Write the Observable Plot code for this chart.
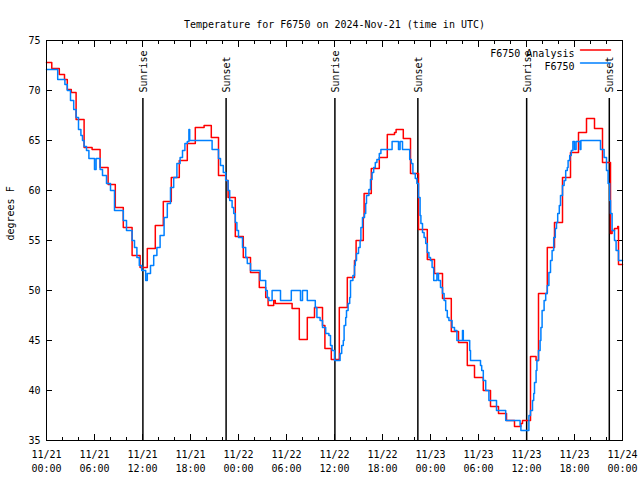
<!DOCTYPE html>
<html><head><meta charset="utf-8">
<script src="https://cdn.jsdelivr.net/npm/d3@7"></script>
<script src="https://cdn.jsdelivr.net/npm/@observablehq/plot@0.6"></script>
<style>body{margin:0;background:#fff}</style>
</head><body><div id="chart"></div>
<script>
const titleText = "Temperature for F6750 on 2024-Nov-21 (time in UTC)";
const yLabelText = "degrees F";
const seriesNames = ["F6750 Analysis", "F6750"];
const seriesColors = ["#ff0000", "#0080ff"];

// hours since 2024-11-21 00:00 UTC (step-after values)
const analysisHours = [0,0.66,1.6,2.25,2.6,3.1,3.7,4.7,5.7,6.7,7.7,8.6,9.6,10.7,11.7,12.6,13.6,14.6,15.6,16.6,17.6,18.6,19.7,20.6,21.5,22.4,22.7,23.6,24.6,25.5,26.6,27.4,27.7,28.4,28.6,30.7,31.6,32.6,33.5,34.5,34.8,35.6,36.6,37.6,38.5,38.7,39.6,39.7,40.6,41.6,42.6,43.5,43.7,44.6,45.5,46.5,47.6,48.5,49.5,50.6,51.5,52.6,53.5,54.6,55.5,56.5,57.5,58.5,59.3,59.5,60.5,61.2,61.5,62.6,63.5,64.5,65.5,66.5,67.5,68.5,69.5,70.5,70.7,71.0,71.4,71.5,72];
const analysisTemps = [72.8,72.2,71.6,71.1,70.1,69.8,67.1,64.3,64.1,62.3,60.6,58.3,56.3,53.5,52.3,54.2,56.5,58.9,61.3,63.0,64.7,66.3,66.5,65.3,61.5,61.0,59.3,55.4,53.3,51.8,50.3,49.3,48.5,49.0,48.7,48.2,45.1,47.3,48.3,46.5,44.2,43.1,48.3,51.3,53.0,55.0,57.3,59.7,62.2,63.3,65.6,65.8,66.1,65.2,61.7,56.1,53.1,51.7,49.2,45.9,44.8,42.5,41.3,40.0,38.4,37.7,37.0,36.4,36.7,37.0,43.4,43.0,49.7,54.3,56.8,61.3,63.8,65.8,67.2,66.2,62.8,55.7,56.0,56.2,56.4,52.6,52.6];

const obsHours = [0,1.4,2.3,2.6,3.0,3.4,3.7,4.0,4.3,4.5,4.7,5.0,5.3,6.0,6.2,6.7,7.0,7.5,8.0,8.5,9.6,10.0,10.7,11.0,11.3,11.6,11.9,12.4,12.6,13.0,13.4,13.8,14.2,14.7,15.1,15.5,15.9,16.3,16.7,17.0,17.3,17.6,17.8,17.9,20.7,21.5,21.75,22.1,22.4,22.7,22.9,23.2,23.4,23.6,23.8,24.0,24.5,24.9,25.1,25.5,26.7,27.4,27.6,27.8,28.2,29.25,30.6,31.75,32.0,32.6,33.6,33.8,34.2,34.5,34.9,35.3,35.5,35.7,36.0,36.7,36.9,37.1,37.2,37.4,37.5,37.7,37.9,38.0,38.3,38.5,38.6,38.75,39.0,39.2,39.3,39.5,39.75,39.9,40.0,40.3,40.5,40.7,40.9,41.1,41.3,41.6,41.8,43.2,44.0,44.2,44.5,45.4,45.6,45.8,46.1,46.3,46.5,46.7,46.8,47.0,47.2,47.4,47.6,47.8,48.0,48.2,48.4,48.8,49.0,49.25,49.5,49.7,49.9,50.1,50.3,50.7,51.0,51.3,52.0,52.1,52.9,53.0,54.25,54.4,54.6,54.9,55.3,56.25,57.4,59.2,59.3,60.3,60.5,60.75,60.9,61.0,61.2,61.3,61.5,61.7,61.8,61.95,62.2,62.4,62.6,62.8,63.0,63.2,63.4,63.6,63.75,63.9,64.1,64.25,64.5,64.7,64.9,65.1,65.2,65.4,65.6,65.8,66.0,66.2,66.7,66.8,69.25,69.7,70.0,70.2,70.4,70.5,70.7,71.0,71.2,71.5,72];
const obsTemps = [72.1,71.1,70.6,70.0,69.0,68.1,67.3,66.1,65.5,65.0,64.4,64.0,63.2,62.1,63.2,62.1,61.5,60.7,60.0,58.0,57.0,56.0,55.0,54.3,53.3,52.5,52.0,51.0,51.7,52.5,53.5,54.3,55.5,57.3,58.7,60.3,61.3,62.7,63.3,64.0,64.7,64.9,66.1,65.0,64.1,63.2,62.5,61.8,61.0,60.0,59.0,58.3,57.7,56.8,56.0,55.3,54.3,53.3,52.7,52.0,51.0,50.0,49.3,49.0,50.0,49.0,50.0,49.0,50.0,49.0,48.3,47.3,47.0,46.3,45.7,45.5,44.5,44.0,43.0,43.7,44.5,45.0,46.5,47.3,48.0,48.7,49.3,51.0,51.5,52.5,53.0,53.7,54.3,55.0,56.3,57.3,57.7,58.7,59.5,60.1,61.1,61.8,62.3,62.8,63.1,63.7,64.1,64.9,64.1,64.9,64.1,63.1,62.7,61.7,61.2,60.7,59.3,57.5,56.7,55.8,55.3,54.7,53.8,53.3,53.0,52.3,51.0,51.7,51.0,50.3,49.7,49.0,48.0,47.3,47.0,46.3,46.0,45.0,46.0,45.0,44.0,43.0,42.5,42.0,41.0,40.0,39.0,38.0,37.0,36.5,36.0,37.5,38.0,39.0,39.7,40.8,42.0,43.0,44.0,45.0,46.3,48.0,49.0,49.7,50.5,51.8,53.0,54.0,55.3,56.2,56.8,57.7,58.5,59.5,60.5,61.0,62.0,62.3,63.0,63.5,64.0,64.9,64.1,64.9,64.1,65.0,64.1,63.3,62.0,60.7,59.0,57.7,56.0,55.0,54.0,53.0,53.0];

const sunLabels = ["Sunrise","Sunset","Sunrise","Sunset","Sunrise","Sunset"];
const sunHours = [12.05,22.45,36.05,46.42,60.02,70.35];

const yTicks = [35,40,45,50,55,60,65,70,75];
const majorTickHours = [0,6,12,18,24,30,36,42,48,54,60,66,72];
const minorTickHours = [0,2,4,6,8,10,12,14,16,18,20,22,24,26,28,30,32,34,36,38,40,42,44,46,48,50,52,54,56,58,60,62,64,66,68,70,72];

const t0 = Date.UTC(2024, 10, 21);
const toDate = h => new Date(t0 + h * 3600000);
const analysis = analysisHours.map((h, i) => ({time: toDate(h), temp: analysisTemps[i]}));
const obs = obsHours.map((h, i) => ({time: toDate(h), temp: obsTemps[i]}));
const sun = sunHours.map((h, i) => ({time: toDate(h), label: sunLabels[i]}));
const majorTicks = majorTickHours.map(toDate);
const minorTicks = minorTickHours.map(toDate);
const fmt = d3.utcFormat("%m/%d\n%H:%M");
const blank = () => "";
const lineShape = {draw(context, l) { context.moveTo(0, 0); context.lineTo(0, -l); }};

const chart = Plot.plot({
  width: 640, height: 480,
  marginTop: 40, marginBottom: 40, marginLeft: 46, marginRight: 18,
  style: {fontFamily: "'DejaVu Sans Mono', monospace", fontSize: "10px", background: "white", color: "black"},
  x: {type: "utc", domain: [toDate(0), toDate(72)]},
  y: {domain: [35, 75]},
  marks: [
    Plot.axisY(yTicks, {tickSize: 0, tickPadding: 6, label: null, fontSize: 10}),
    Plot.axisY(yTicks, {anchor: "left", tickSize: 6, dx: 6, tickFormat: blank, label: null}),
    Plot.axisY(yTicks, {anchor: "right", tickSize: 6, dx: -6, tickFormat: blank, label: null}),
    Plot.axisX(majorTicks, {anchor: "bottom", tickSize: 0, tickPadding: 8, tickFormat: fmt, label: null, lineHeight: 1.4, fontSize: 10}),
    Plot.axisX(majorTicks, {anchor: "bottom", tickSize: 6, dy: -6, tickFormat: blank, label: null}),
    Plot.axisX(minorTicks, {anchor: "bottom", tickSize: 3, dy: -3, tickFormat: blank, label: null}),
    Plot.axisX(majorTicks, {anchor: "top", tickSize: 6, dy: 6, tickFormat: blank, label: null}),
    Plot.axisX(minorTicks, {anchor: "top", tickSize: 3, dy: 3, tickFormat: blank, label: null}),
    Plot.ruleX(sun, {x: "time", insetTop: 58, stroke: "black", strokeWidth: 1.5}),
    Plot.text(sun, {x: "time", text: "label", frameAnchor: "top", rotate: -90, textAnchor: "start", dy: 52, dx: -3, fontSize: 10}),
    Plot.line(analysis, {x: "time", y: "temp", curve: "step-after", stroke: seriesColors[0], strokeWidth: 1.5}),
    Plot.line(obs, {x: "time", y: "temp", curve: "step-after", stroke: seriesColors[1], strokeWidth: 1.5}),
    Plot.frame({stroke: "black", strokeWidth: 1}),
    Plot.text([seriesNames[0]], {frameAnchor: "top-right", textAnchor: "end", dx: -48, dy: 9.5, fontSize: 10}),
    Plot.text([seriesNames[1]], {frameAnchor: "top-right", textAnchor: "end", dx: -48, dy: 22.5, fontSize: 10}),
    Plot.vector([0], {frameAnchor: "top-right", dx: -42, dy: 9.5, length: 30, rotate: 90, anchor: "start", shape: lineShape, stroke: seriesColors[0], strokeWidth: 1.5}),
    Plot.vector([0], {frameAnchor: "top-right", dx: -42, dy: 22.5, length: 30, rotate: 90, anchor: "start", shape: lineShape, stroke: seriesColors[1], strokeWidth: 1.5}),
    Plot.text([titleText], {frameAnchor: "top", dy: -20, fontSize: 10}),
    Plot.text([yLabelText], {frameAnchor: "left", rotate: -90, dx: -36, fontSize: 10})
  ]
});
document.getElementById("chart").appendChild(chart);
</script>
</body></html>
